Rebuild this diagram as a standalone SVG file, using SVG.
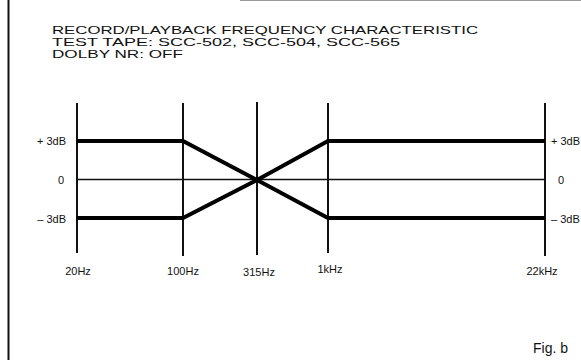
<svg xmlns="http://www.w3.org/2000/svg" width="581" height="360" viewBox="0 0 581 360">
<style>
.t{font-family:"Liberation Sans",Arial,sans-serif;fill:#111}
.title{font-size:11px}
.lab{font-size:11px}
.grid{stroke:#111;stroke-width:2;fill:none}
.zero{stroke:#111;stroke-width:1.5;fill:none}
.curve{stroke:#000;stroke-width:4;fill:none;stroke-linejoin:miter}
</style>
<rect width="581" height="360" fill="#fff"/>
<line x1="8.5" y1="0" x2="8.5" y2="360" stroke="#111" stroke-width="2"/>
<line x1="240" y1="0.5" x2="581" y2="0.5" stroke="#999" stroke-width="1"/>
<g id="title">
<text class="t title" x="52" y="34" textLength="426" lengthAdjust="spacingAndGlyphs">RECORD/PLAYBACK FREQUENCY CHARACTERISTIC</text>
<text class="t title" x="52" y="46" textLength="348" lengthAdjust="spacingAndGlyphs">TEST TAPE: SCC-502, SCC-504, SCC-565</text>
<text class="t title" x="52" y="58" textLength="131" lengthAdjust="spacingAndGlyphs">DOLBY NR: OFF</text>
</g>
<g id="grid">
<line class="grid" x1="77" y1="103" x2="77" y2="253"/>
<line class="grid" x1="183" y1="103" x2="183" y2="256"/>
<line class="grid" x1="257" y1="102" x2="257" y2="255"/>
<line class="grid" x1="328" y1="103" x2="328" y2="253"/>
<line class="grid" x1="545" y1="103" x2="545" y2="256"/>
<line class="zero" x1="77" y1="179.5" x2="545" y2="179.5"/>
</g>
<g id="connectors">
<polyline class="curve" points="77,141 183,141 257,180 328,141 545,141"/>
<polyline class="curve" points="77,218 183,218 257,180 328,218 545,218"/>
</g>
<g id="ylabels-left">
<text class="t lab" x="66" y="145" text-anchor="end">+ 3dB</text>
<text class="t lab" x="64" y="184" text-anchor="end">0</text>
<text class="t lab" x="66" y="223" text-anchor="end">– 3dB</text>
</g>
<g id="ylabels-right">
<text class="t lab" x="551" y="145">+ 3dB</text>
<text class="t lab" x="558" y="184">0</text>
<text class="t lab" x="551" y="223">– 3dB</text>
</g>
<g id="xlabels">
<text class="t lab" x="78" y="275" text-anchor="middle">20Hz</text>
<text class="t lab" x="183" y="275" text-anchor="middle">100Hz</text>
<text class="t lab" x="259" y="276" text-anchor="middle">315Hz</text>
<text class="t lab" x="330" y="273" text-anchor="middle">1kHz</text>
<text class="t lab" x="542" y="275" text-anchor="middle">22kHz</text>
</g>
<text id="fig" class="t" x="533" y="353" font-size="14">Fig. b</text>
</svg>
